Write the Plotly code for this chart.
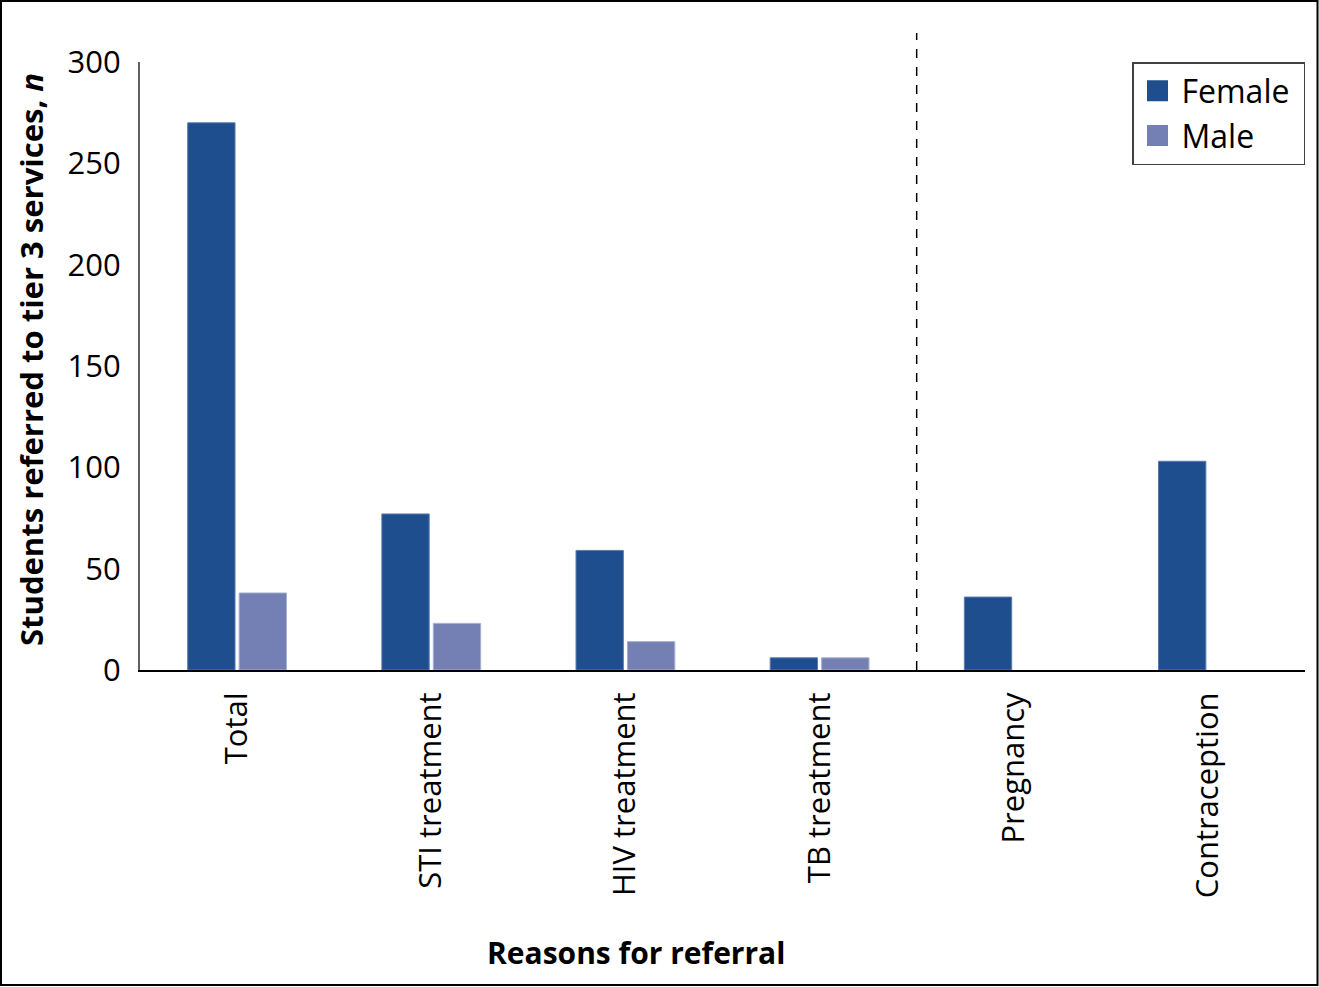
import plotly.graph_objects as go

categories = ["Total", "STI treatment", "HIV treatment", "TB treatment", "Pregnancy", "Contraception"]
female = [270, 77, 59, 6, 36, 103]
male = [38, 23, 14, 6, None, None]
y_ticks = [0, 50, 100, 150, 200, 250, 300]
series_names = ["Female", "Male"]

W, H = 1319, 987
L, R, T, B = 140, 14, 62, 317
pw, ph = W - L - R, H - T - B

def px_x(p):
    return (p - L) / pw

def px_y(p):
    return (H - B - p) / ph

FONT = "Open Sans"
C_F = "#1F4E8E"
C_M = "#7480B4"

fig = go.Figure()
fig.add_trace(go.Bar(name=series_names[0], x=categories, y=female, showlegend=False,
                     marker=dict(color=C_F, line=dict(color="#5C7BB0", width=1))))
fig.add_trace(go.Bar(name=series_names[1], x=categories, y=male, showlegend=False,
                     marker=dict(color=C_M, line=dict(color="#A4AED2", width=1))))
# legend entries with larger square swatches
for name, col in zip(series_names, [C_F, C_M]):
    fig.add_trace(go.Scatter(name=name + "\u00a0", x=[None], y=[None], mode="markers",
                             marker=dict(symbol="square", size=18, color=col,
                                         line=dict(color=col, width=5)),
                             showlegend=True))

fig.update_layout(
    width=W, height=H,
    margin=dict(l=L, r=R, t=T, b=B, autoexpand=False),
    plot_bgcolor="white", paper_bgcolor="white",
    barmode="group", bargap=0.47, bargroupgap=0.08,
    font=dict(family=FONT, color="black", size=30),
    legend=dict(x=1, y=1, xanchor="right", yanchor="top",
                bordercolor="#404040", borderwidth=1.5,
                font=dict(family=FONT, size=32, color="black"),
                itemsizing="trace", tracegroupgap=0, itemwidth=38,
                bgcolor="white"),
    xaxis=dict(showline=True, linecolor="black", linewidth=2,
               showgrid=False, ticks="", tickangle=-90,
               tickfont=dict(family=FONT, size=31, color="black"),
               ticklabelstandoff=8),
    yaxis=dict(range=[0, 300], tickvals=y_ticks, showline=True,
               linecolor="#606060", linewidth=2, showgrid=False,
               zeroline=False, ticks="",
               tickfont=dict(family=FONT, size=31, color="black"),
               ticklabelstandoff=11),
)

# y-axis title
fig.add_annotation(text="<b>Students referred to tier 3 services, <i>n</i></b>",
                   xref="paper", yref="paper", x=px_x(31), y=px_y(360),
                   xanchor="center", yanchor="middle", textangle=-90,
                   showarrow=False, font=dict(family=FONT, size=31, color="black"))

# x-axis title
fig.add_annotation(text="<b>Reasons for referral</b>", xref="paper", yref="paper",
                   x=px_x(636), y=px_y(952), xanchor="center", yanchor="middle",
                   showarrow=False, font=dict(family=FONT, size=30, color="black"))

# dashed divider between categories
fig.add_shape(type="line", xref="x", yref="paper", x0=3.5, x1=3.5,
              y0=0, y1=px_y(33), line=dict(color="black", width=1.5, dash="dash"))

# outer frame
fig.add_shape(type="rect", xref="paper", yref="paper",
              x0=px_x(1), x1=px_x(1317.5), y0=px_y(985), y1=px_y(1),
              line=dict(color="black", width=2))

fig.write_html("out.html", config={"displayModeBar": False},
               post_script="document.body.style.margin='0px';document.body.style.overflow='hidden';")
